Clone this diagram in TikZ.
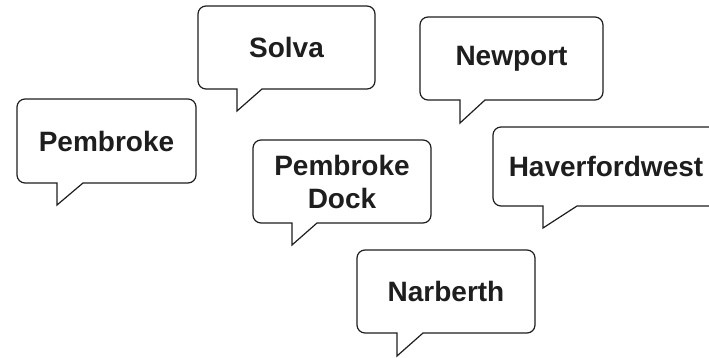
\documentclass[tikz,border=0pt]{standalone}
\usepackage{fontspec}
\setmainfont{Liberation Sans}
\definecolor{ink}{HTML}{1E1E1E}
\tikzset{
  bubble/.style={draw=ink, line width=1.2pt, line join=miter, fill=white},
  lbl/.style={font=\fontsize{28}{33}\selectfont\bfseries, align=center, text=ink, inner sep=0pt}
}
% #1 L, #2 B, #3 R, #4 T, #5 tail left x, #6 tail right x, #7 tip y
\newcommand\speechbubble[7]{%
  \draw[bubble] (#5,#2) -- (#5,#7) -- (#6,#2) -- ({#3-8},#2)
    arc[start angle=270,end angle=360,radius=8] -- (#3,{#4-8})
    arc[start angle=0,end angle=90,radius=8] -- ({#1+8},#4)
    arc[start angle=90,end angle=180,radius=8] -- (#1,{#2+8})
    arc[start angle=180,end angle=270,radius=8] -- cycle;}
\begin{document}
\begin{tikzpicture}[x=1pt,y=1pt]
\useasboundingbox (0,0) rectangle (709,357);
\begin{scope}
\clip (0,0) rectangle (709,357);
\speechbubble{17}{174}{196}{258}{57}{83}{152}
\node[lbl] (pembroke) at (106.5,216) {Pembroke};
\speechbubble{198}{268}{375}{351}{237}{262}{246}
\node[lbl] (solva) at (286.5,309.5) {Solva};
\speechbubble{420}{257}{603}{340}{460}{485}{234}
\node[lbl] (newport) at (511.5,298.5) {Newport};
\speechbubble{253}{134}{431}{217}{292}{317}{112}
\node[lbl] (pdock) at (342,175.5) {Pembroke\\Dock};
\speechbubble{493}{151}{719}{230}{543}{577}{129}
\node[lbl] (haverfordwest) at (606,190.5) {Haverfordwest};
\speechbubble{357}{24}{535}{107}{397}{423}{1}
\node[lbl] (narberth) at (446,65.5) {Narberth};
\end{scope}
\end{tikzpicture}
\end{document}
